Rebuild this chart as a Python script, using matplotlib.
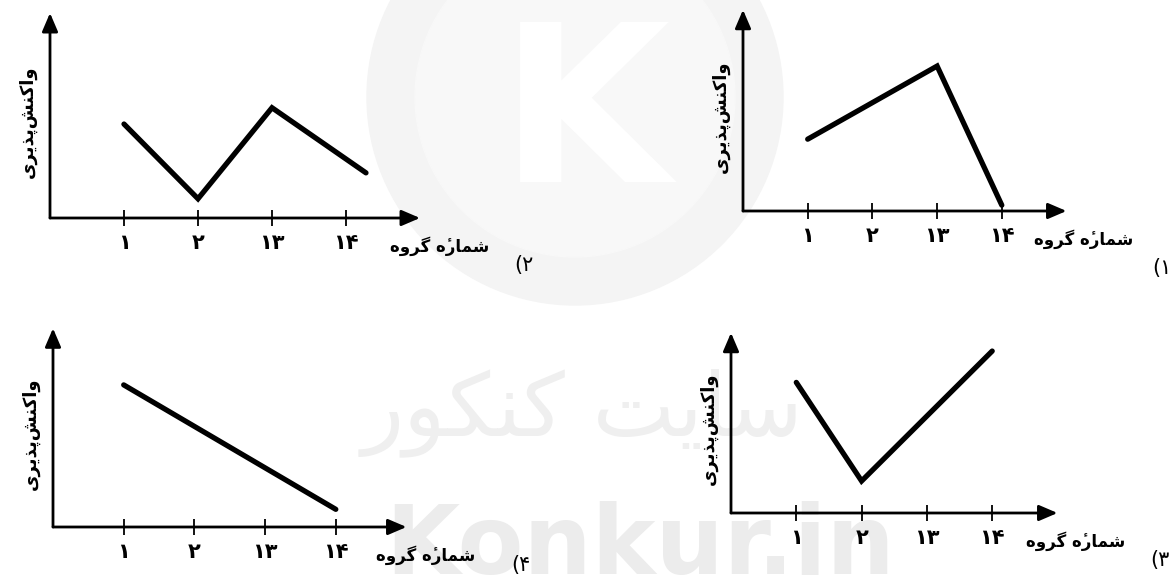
import matplotlib
matplotlib.use("Agg")
import matplotlib.pyplot as plt
from matplotlib.patches import Circle

# Data (x = group index, y = reactivity in tick units)
group_labels = ['۱', '۲', '۱۳', '۱۴']
group_pos = [1, 2, 3, 4]

p1_x = [1, 3, 4]
p1_y = [1.11, 2.24, 0.09]

p2_x = [1, 2, 3, 4.27]
p2_y = [1.27, 0.26, 1.49, 0.61]

p3_x = [1, 2, 4]
p3_y = [2.0, 0.49, 2.48]

p4_x = [1, 4]
p4_y = [2.01, 0.25]

xlabel_fa = 'شمارۀ گروه'
ylabel_fa = 'واکنش\u200cپذیری'
watermark_fa = 'سایت کنکور'

# matplotlib has no Arabic shaping, so pick presentation forms by hand
# (isolated, final, initial, medial); None = letter does not join forward
FORMS = {
    'ا': ('\uFE8D', '\uFE8E', None, None),
    'پ': ('\uFB56', '\uFB57', '\uFB58', '\uFB59'),
    'ت': ('\uFE95', '\uFE96', '\uFE97', '\uFE98'),
    'ذ': ('\uFEAB', '\uFEAC', None, None),
    'ر': ('\uFEAD', '\uFEAE', None, None),
    'س': ('\uFEB1', '\uFEB2', '\uFEB3', '\uFEB4'),
    'ش': ('\uFEB5', '\uFEB6', '\uFEB7', '\uFEB8'),
    'ک': ('\uFB8E', '\uFB8F', '\uFB90', '\uFB91'),
    'گ': ('\uFB92', '\uFB93', '\uFB94', '\uFB95'),
    'م': ('\uFEE1', '\uFEE2', '\uFEE3', '\uFEE4'),
    'ن': ('\uFEE5', '\uFEE6', '\uFEE7', '\uFEE8'),
    'ه': ('\uFEE9', '\uFEEA', '\uFEEB', '\uFEEC'),
    'ۀ': ('\uFEE9', '\uFEEA', None, None),  # heh + hamza above (added below)
    'و': ('\uFEED', '\uFEEE', None, None),
    'ی': ('\uFBFC', '\uFBFD', '\uFBFE', '\uFBFF'),
}


def fa(text):
    out = []
    for i, c in enumerate(text):
        if c not in FORMS:
            if c != '\u200c':
                out.append(c)
            continue
        prev = text[i - 1] if i > 0 else None
        nxt = text[i + 1] if i + 1 < len(text) else None
        iso, fin, ini, med = FORMS[c]
        join_prev = prev in FORMS and FORMS[prev][2] is not None
        join_next = nxt in FORMS and ini is not None
        if c == 'ۀ':
            out.append('\u0654')
        if join_prev and join_next:
            out.append(med)
        elif join_prev:
            out.append(fin)
        elif join_next:
            out.append(ini)
        else:
            out.append(iso)
    return ''.join(reversed(out))


W, H = 1174, 577
fig = plt.figure(figsize=(W / 100, H / 100), dpi=100)
fig.patch.set_facecolor('white')

# faint site watermark behind everything
fig.add_artist(Circle((5.75, (H - 97) / 100), 2.08, transform=fig.dpi_scale_trans,
                      color='#f4f4f4', zorder=-10))
fig.add_artist(Circle((5.75, (H - 97) / 100), 1.60, transform=fig.dpi_scale_trans,
                      color='#f8f8f8', zorder=-9))
fig.text(500 / W, 1 - 182 / H, 'K', fontsize=158, fontweight='bold', color='white',
         family='DejaVu Sans', zorder=-8)
fig.text(583 / W, 1 - 413 / H, fa(watermark_fa), fontsize=63, color='#efefef',
         family='DejaVu Sans', ha='center', va='center', zorder=-8)
fig.text(385 / W, 1 - 574 / H, 'Konkur.in', fontsize=69, fontweight='bold', color='#ececec',
         family='DejaVu Sans', zorder=-8)

# panel layout: y-axis pixel x, x-axis pixel y, pixels per group, y extent
panels = [
    (p1_x, p1_y, (743, 211, 64.7, 3.11), '(۱', (1162, 268)),
    (p2_x, p2_y, (50, 218, 74.0, 2.77), '(۲', (524, 265)),
    (p3_x, p3_y, (731, 513, 65.3, 2.76), '(۳', (1160, 560)),
    (p4_x, p4_y, (53, 527, 70.7, 2.81), '(۴', (521, 565)),
]
xmax = 5.0

for xs, ys, (ox, oy, unit, ymax), num, (nx, ny) in panels:
    ax = fig.add_axes([ox / W, 1 - oy / H, xmax * unit / W, ymax * unit / H])
    ax.set_facecolor('none')
    ax.set_xlim(0, xmax)
    ax.set_ylim(0, ymax)
    for s in ax.spines.values():
        s.set_visible(False)

    ax.plot(xs, ys, color='black', lw=3.8, solid_capstyle='round',
            solid_joinstyle='miter', clip_on=False)

    arrow = dict(arrowstyle='-|>,head_length=0.7,head_width=0.3', lw=2.0,
                 color='black', shrinkA=0, shrinkB=0, mutation_scale=16)
    ax.annotate('', xy=(1, 0), xytext=(0, 0), xycoords='axes fraction', arrowprops=arrow)
    ax.annotate('', xy=(0, 1), xytext=(0, 0), xycoords='axes fraction', arrowprops=arrow)

    ax.set_xticks(group_pos)
    ax.set_xticklabels(group_labels, fontsize=15, fontweight='bold', family='DejaVu Sans')
    ax.set_yticks([])
    ax.tick_params(axis='x', direction='inout', length=12, width=1.3, pad=5)

    ax.annotate(fa(xlabel_fa), xy=(5.27, 0), xycoords='data', xytext=(0, -28),
                textcoords='offset pixels', ha='center', va='center',
                fontsize=12, fontweight='bold', family='DejaVu Sans', annotation_clip=False)
    ax.annotate(fa(ylabel_fa), xy=(0, 0.47), xycoords='axes fraction', xytext=(-22, 0),
                textcoords='offset pixels', ha='center', va='center', rotation=90,
                fontsize=13, fontweight='bold', family='DejaVu Sans')

    fig.text(nx / W, 1 - ny / H, num, fontsize=15, family='DejaVu Sans',
             ha='center', va='center')

fig.savefig('out.png', dpi=100)
